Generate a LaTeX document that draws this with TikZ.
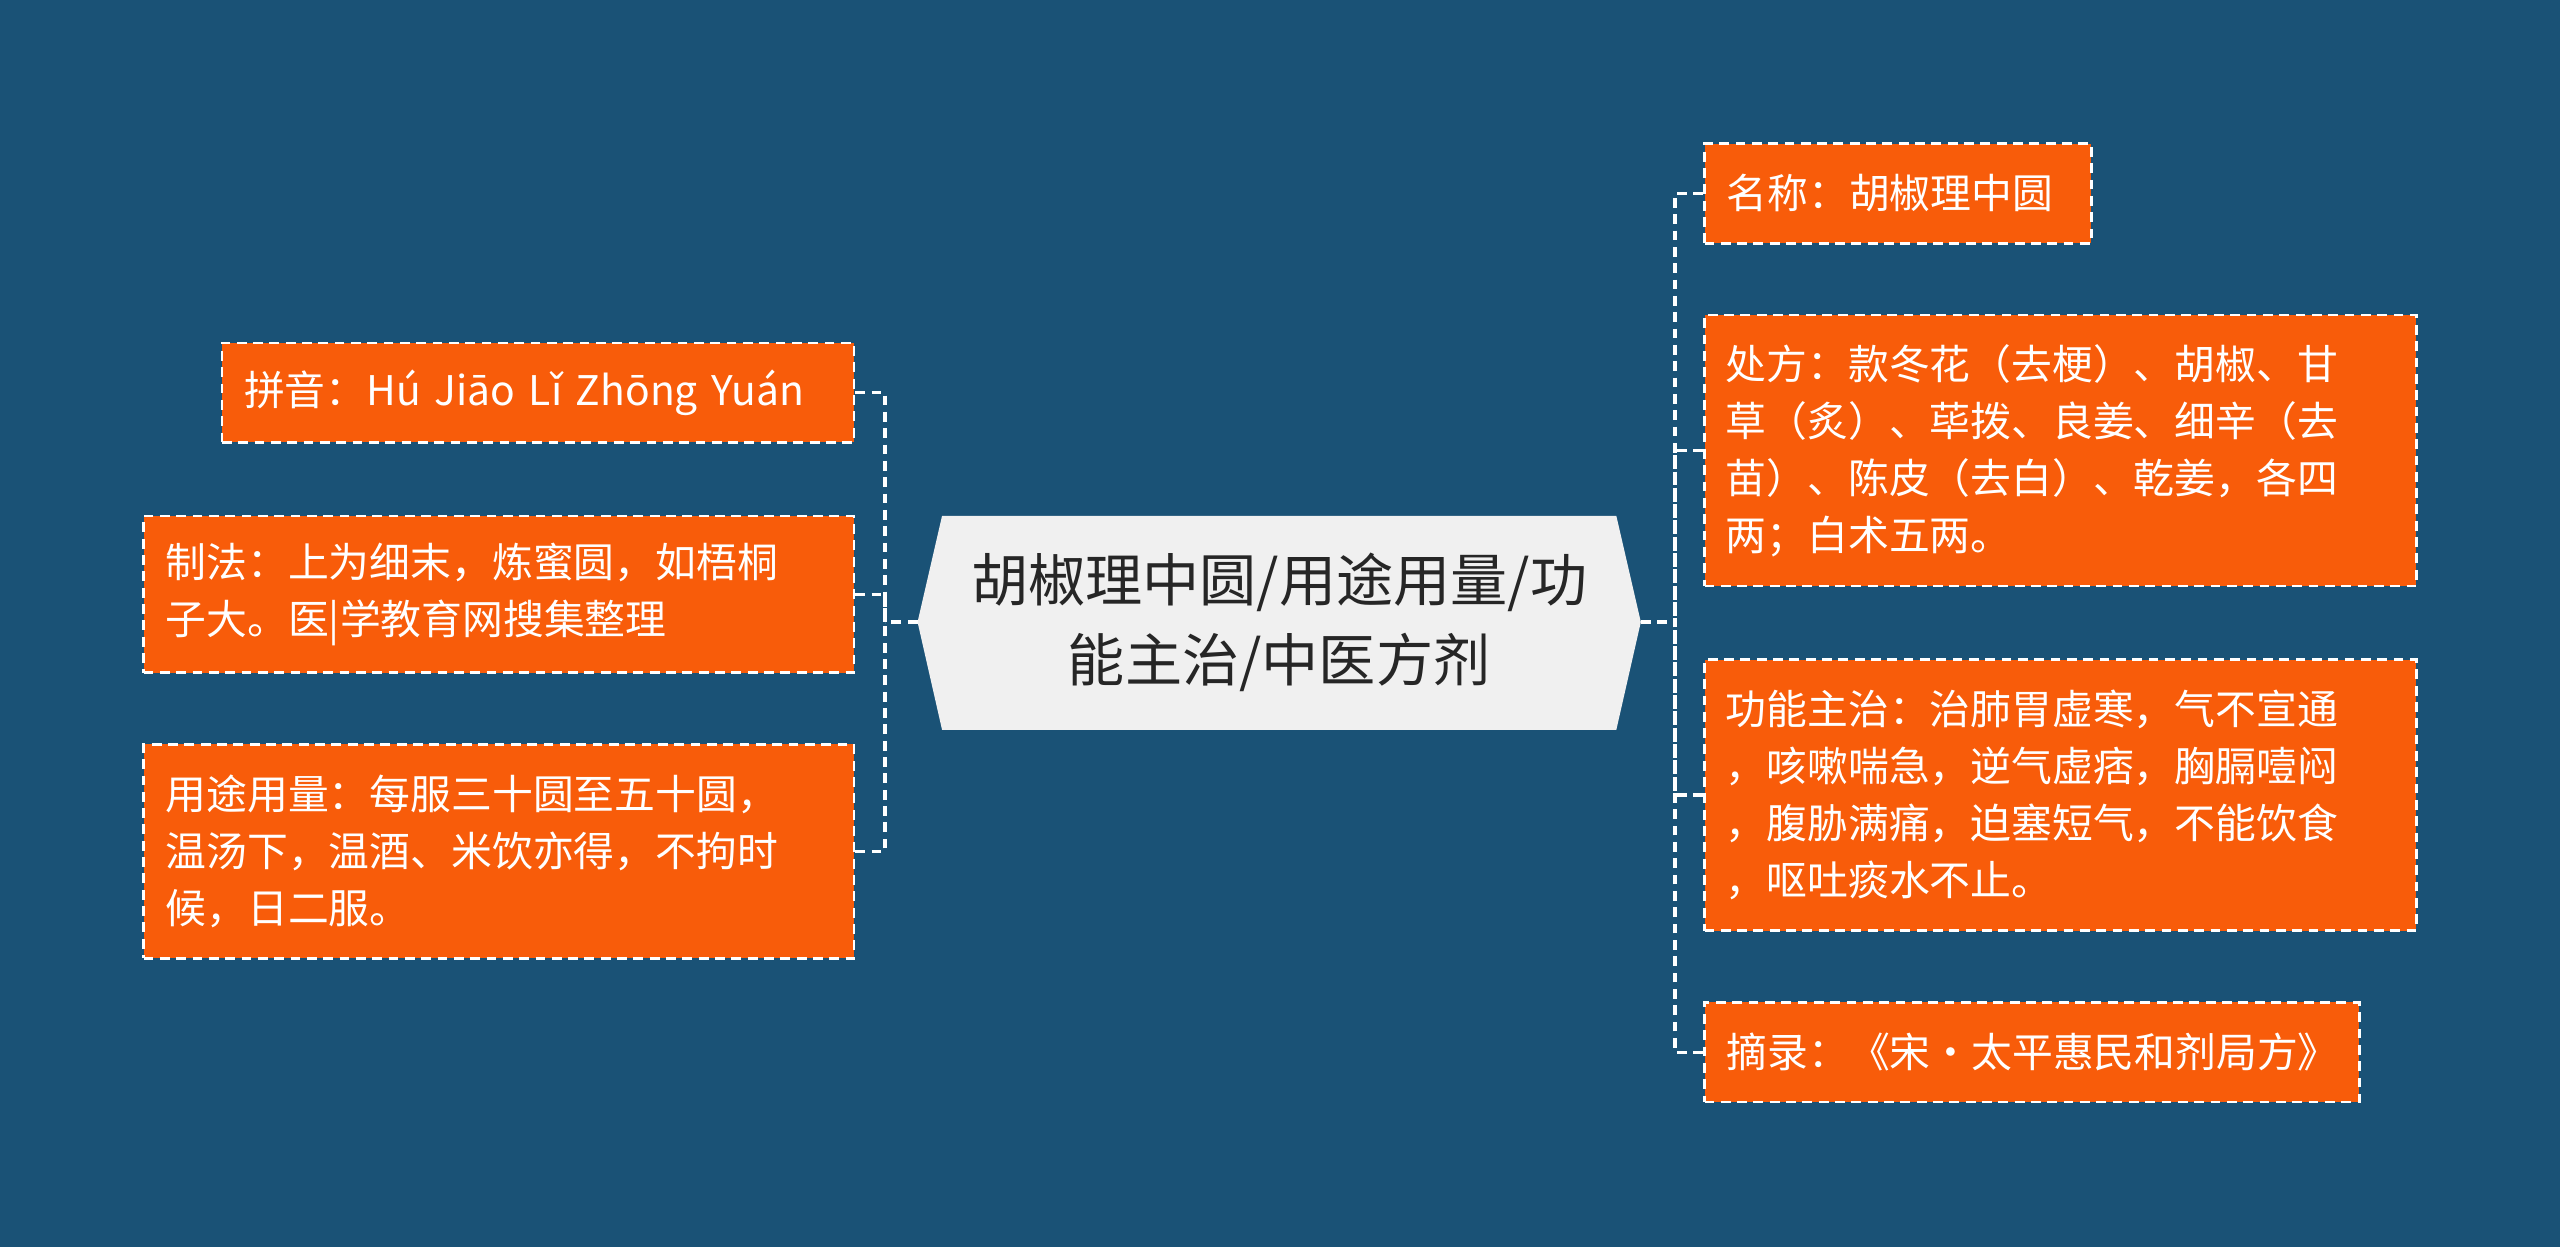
\documentclass[tikz,border=0pt]{standalone}
\usepackage{fontspec}
\setmainfont{Noto Sans CJK SC}
\begin{document}
\begin{tikzpicture}[x=0.5pt,y=-0.5pt,
  leaf/.style={draw=white,dashed,line width=0.8pt,dash pattern=on 3pt off 2pt,fill=orange1,text=white,font=\fontsize{12.5pt}{17.5pt}\selectfont,align=left,inner xsep=6.5pt,inner ysep=0pt,anchor=center},
  conn/.style={draw=white,line width=1pt,dash pattern=on 3pt off 2pt}]
\definecolor{bg}{HTML}{1A5276}
\definecolor{orange1}{HTML}{F85C0A}
\definecolor{cgray}{HTML}{F0F0F0}
\fill[bg] (0,0) rectangle (1568,764);
\useasboundingbox (0,0) rectangle (1568,764);
% center
\fill[cgray] (562,381)--(577,316)--(990,316)--(1005,381)--(990,447)--(577,447)--cycle;
\node[font=\fontsize{17.5pt}{24.5pt}\selectfont,align=center,text=black!85] (c) at (783.5,381) {胡椒理中圆/用途用量/功\\能主治/中医方剂};
\coordinate (cl) at (562,381);
\coordinate (cr) at (1005,381);
% left
\node[leaf,minimum width=193.5pt,minimum height=30.5pt,text width=180pt] (l1) at (329.5,240.5) {拼音：Hú Jiāo Lǐ Zhōng Yuán};
\node[leaf,minimum width=217.5pt,minimum height=48pt,text width=204pt] (l2) at (305.5,364) {制法：上为细末，炼蜜圆，如梧桐\\子大。医|学教育网搜集整理};
\node[leaf,minimum width=217.5pt,minimum height=65.5pt,text width=204pt] (l3) at (305.5,521.5) {用途用量：每服三十圆至五十圆，\\温汤下，温酒、米饮亦得，不拘时\\候，日二服。};
% right
\node[leaf,minimum width=118.5pt,minimum height=30.5pt,text width=105pt] (r1) at (1162.5,118.5) {名称：胡椒理中圆};
\node[leaf,minimum width=218pt,minimum height=83pt,text width=205pt] (r2) at (1262,276) {处方：款冬花（去梗）、胡椒、甘\\草（炙）、荜拨、良姜、细辛（去\\苗）、陈皮（去白）、乾姜，各四\\两；白术五两。};
\node[leaf,minimum width=218pt,minimum height=83pt,text width=205pt] (r3) at (1262,487) {功能主治：治肺胃虚寒，气不宣通\\，咳嗽喘急，逆气虚痞，胸膈噎闷\\，腹胁满痛，迫塞短气，不能饮食\\，呕吐痰水不止。};
\node[leaf,minimum width=200.5pt,minimum height=30.5pt,text width=187pt] (r4) at (1244.5,644.5) {摘录：《宋·太平惠民和剂局方》};
% connectors
\path[conn] (cl) -- (542,381);
\path[conn] (l1.east) -| (542,381);
\path[conn] (l2.east) -| (542,381);
\path[conn] (l3.east) -| (542,381);
\path[conn] (cr) -- (1026,381);
\path[conn] (r1.west) -| (1026,381);
\path[conn] (r2.west) -| (1026,381);
\path[conn] (r3.west) -| (1026,381);
\path[conn] (r4.west) -| (1026,381);
\end{tikzpicture}
\end{document}
